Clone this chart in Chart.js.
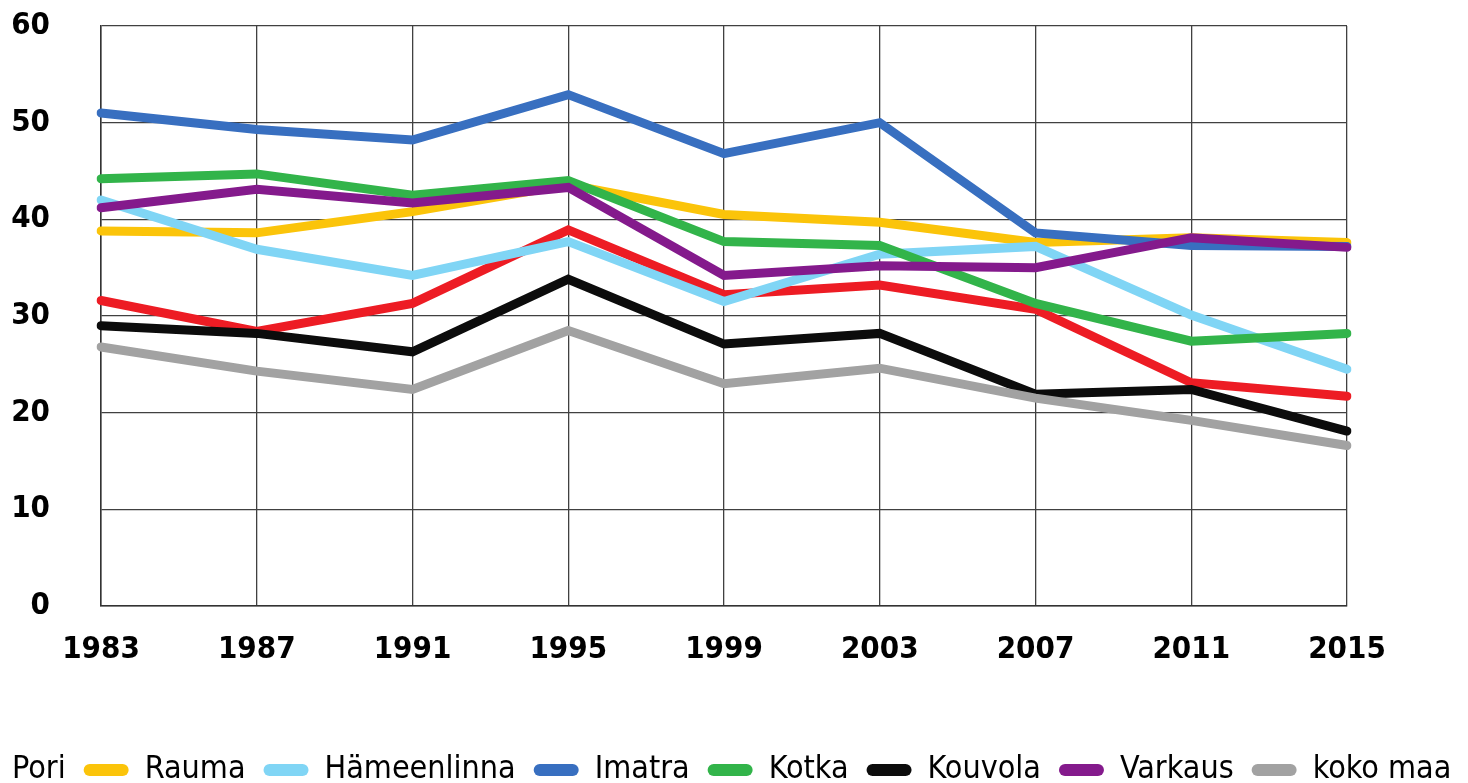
<!DOCTYPE html>
<html>
<head>
    <meta charset="utf-8">
    <title>Pori ja vertailukaupungit 1983–2015</title>
    <script src="https://cdn.jsdelivr.net/npm/chart.js"></script>
    <style>
        html, body { margin: 0; padding: 0; background: #fff; }
        .chart-container { position: relative; width: 1468px; height: 783px; }
    </style>
</head>
<body>
    <div class="chart-container">
        <canvas id="chart"></canvas>
    </div>

    <script>
        // Vuodet ja sarjat (luettu kuvasta)
        const years = ['1983', '1987', '1991', '1995', '1999', '2003', '2007', '2011', '2015'];
        const yTicks = [0, 10, 20, 30, 40, 50, 60];

        const pori        = [31.6, 28.4, 31.3, 38.9, 32.2, 33.2, 30.7, 23.1, 21.7];
        const rauma       = [38.8, 38.6, 40.8, 43.6, 40.5, 39.7, 37.6, 38.1, 37.6];
        const hameenlinna = [42.0, 36.9, 34.2, 37.7, 31.5, 36.4, 37.2, 30.1, 24.5];
        const imatra      = [51.0, 49.3, 48.2, 52.9, 46.8, 50.0, 38.6, 37.3, 37.2];
        const kotka       = [44.2, 44.7, 42.5, 44.0, 37.7, 37.3, 31.3, 27.4, 28.2];
        const kouvola     = [29.0, 28.2, 26.3, 33.8, 27.1, 28.2, 21.9, 22.4, 18.1];
        const varkaus     = [41.2, 43.1, 41.7, 43.3, 34.2, 35.2, 35.0, 38.1, 37.1];
        const kokoMaa     = [26.8, 24.3, 22.4, 28.5, 23.0, 24.6, 21.5, 19.2, 16.6];

        const seriesNames = ['Pori', 'Rauma', 'Hämeenlinna', 'Imatra', 'Kotka', 'Kouvola', 'Varkaus', 'koko maa'];
        const seriesData = [pori, rauma, hameenlinna, imatra, kotka, kouvola, varkaus, kokoMaa];
        const seriesColors = ['#ED1C24', '#FBC40A', '#80D5F5', '#386FC0', '#32B44A', '#0C0C0C', '#841A8C', '#A2A2A2'];

        const FONT = '"DejaVu Sans Condensed", "Liberation Sans", sans-serif';
        const TICK_SIZE = 31;
        const LEGEND_FONT_SIZE = 32;
        const LEGEND_PAD = 18;
        const BOX_W = 45;

        // Pori-selitteen väripalkki jää kuvan ulkopuolelle, siirretään selitettä vasemmalle
        const legendShift = {
            id: 'legendShift',
            afterLayout(chart) {
                const lg = chart.legend;
                lg.left = 12 - LEGEND_PAD - BOX_W - LEGEND_FONT_SIZE / 2;
                lg.right = 1468 + 300;
                lg.width = lg.right - lg.left;
            }
        };

        const ctx = document.getElementById('chart').getContext('2d');
        const chart = new Chart(ctx, {
            type: 'line',
            data: {
                labels: years,
                datasets: seriesNames.map((name, i) => ({
                    label: name,
                    data: seriesData[i],
                    borderColor: seriesColors[i],
                    backgroundColor: seriesColors[i],
                    borderWidth: 9,
                    borderCapStyle: 'round',
                    borderJoinStyle: 'miter',
                    pointRadius: 0,
                    tension: 0,
                    fill: false,
                    order: seriesNames.length - i   // myöhemmät sarjat päällimmäisiksi
                }))
            },
            options: {
                responsive: true,
                maintainAspectRatio: false,
                animation: false,
                layout: { padding: { top: 26, left: 0, right: 0, bottom: 0 } },
                plugins: {
                    tooltip: { enabled: false },
                    legend: {
                        position: 'bottom',
                        align: 'start',
                        maxHeight: 47,
                        labels: {
                            color: '#000',
                            boxWidth: BOX_W,
                            boxHeight: 12,
                            useBorderRadius: true,
                            borderRadius: 6,
                            padding: LEGEND_PAD,
                            font: { family: FONT, size: LEGEND_FONT_SIZE },
                            sort: (a, b) => a.datasetIndex - b.datasetIndex,
                            generateLabels: (chart) => {
                                const items = Chart.defaults.plugins.legend.labels.generateLabels(chart);
                                items.forEach(it => {
                                    const c = seriesColors[it.datasetIndex];
                                    it.fillStyle = it.datasetIndex === 0 ? 'rgba(0,0,0,0)' : c;
                                    it.strokeStyle = 'rgba(0,0,0,0)';
                                    it.lineWidth = 0;
                                });
                                return items;
                            }
                        }
                    }
                },
                scales: {
                    x: {
                        offset: false,
                        afterFit: (s) => { s.height = 130; },
                        grid: { color: '#404040', lineWidth: 1.3, drawTicks: false },
                        border: { color: '#333', width: 1.5 },
                        ticks: {
                            color: '#000',
                            padding: 25,
                            maxRotation: 0,
                            font: { family: FONT, size: TICK_SIZE, weight: 'bold' }
                        }
                    },
                    y: {
                        min: 0,
                        max: 60,
                        afterFit: (s) => { s.width = 101; s.paddingTop = 0; s.paddingBottom = 0; },
                        afterBuildTicks: (s) => { s.ticks = yTicks.map(v => ({ value: v })); },
                        grid: { color: '#404040', lineWidth: 1.3, drawTicks: false },
                        border: { color: '#333', width: 1.5 },
                        ticks: {
                            color: '#000',
                            padding: 51,
                            font: { family: FONT, size: TICK_SIZE, weight: 'bold' }
                        }
                    },
                    // tyhjä akseli oikealle, jotta piirtoalue päättyy kuten kuvassa
                    yRight: {
                        position: 'right',
                        display: true,
                        grid: { display: false },
                        border: { display: false },
                        ticks: { display: false },
                        afterFit: (s) => { s.width = 121; }
                    }
                }
            },
            plugins: [legendShift]
        });
    </script>
</body>
</html>
